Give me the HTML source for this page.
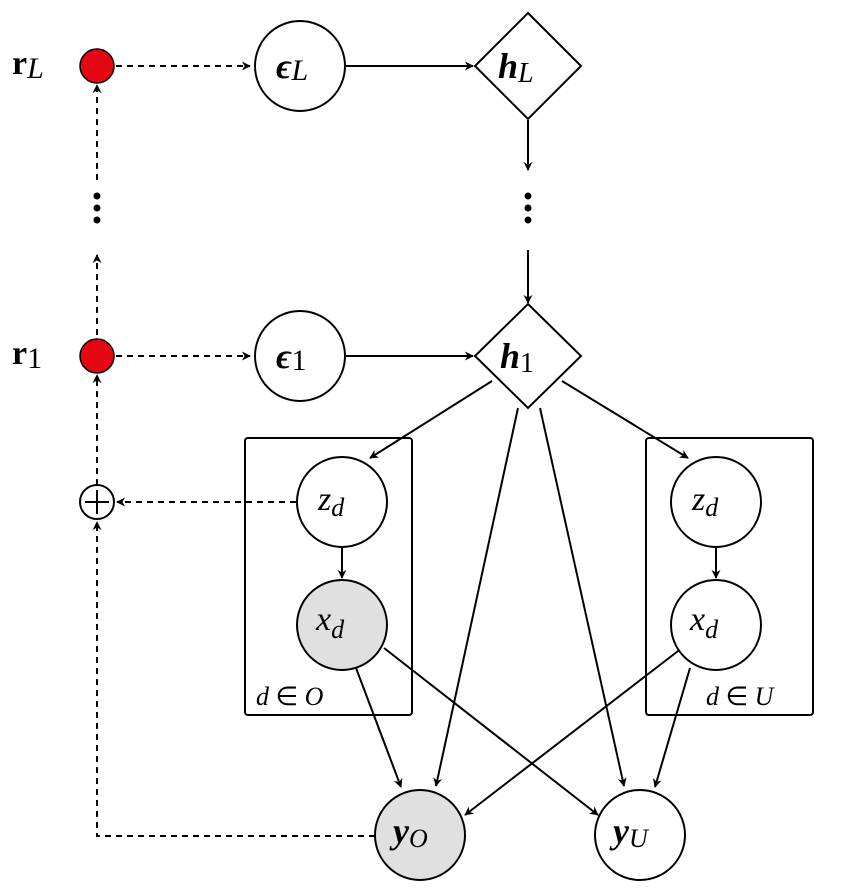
<!DOCTYPE html>
<html><head><meta charset="utf-8"><style>html,body{margin:0;padding:0;background:#fff}svg{display:block}</style></head>
<body>
<svg width="845" height="891" viewBox="0 0 845 891" xmlns="http://www.w3.org/2000/svg">
<defs>
<marker id="a" viewBox="0 0 10 10" refX="9" refY="5" markerWidth="9" markerHeight="9" markerUnits="userSpaceOnUse" orient="auto"><path d="M0,0 L10,5 L0,10 L3,5 z" fill="#000"/></marker>
</defs>
<g stroke="#000" stroke-width="2" fill="none">
<!-- plates -->
<rect x="245" y="438" width="167" height="277" rx="3"/>
<rect x="646" y="438" width="167" height="277" rx="3"/>
<!-- solid arrows -->
<line x1="346" y1="66" x2="473" y2="66" marker-end="url(#a)"/>
<line x1="346" y1="356" x2="473" y2="356" marker-end="url(#a)"/>
<line x1="528" y1="120" x2="528" y2="170" marker-end="url(#a)"/>
<line x1="528" y1="250" x2="528" y2="303" marker-end="url(#a)"/>
<line x1="492" y1="381" x2="370" y2="458" marker-end="url(#a)"/>
<line x1="562" y1="381" x2="688" y2="458" marker-end="url(#a)"/>
<line x1="518" y1="408" x2="436" y2="786" marker-end="url(#a)"/>
<line x1="540" y1="408" x2="624" y2="786" marker-end="url(#a)"/>
<line x1="342" y1="547" x2="342" y2="578" marker-end="url(#a)"/>
<line x1="716" y1="547" x2="716" y2="578" marker-end="url(#a)"/>
<line x1="356" y1="668" x2="401" y2="787" marker-end="url(#a)"/>
<line x1="384" y1="648" x2="598" y2="815" marker-end="url(#a)"/>
<line x1="682" y1="648" x2="465" y2="815" marker-end="url(#a)"/>
<line x1="690" y1="668" x2="655" y2="787" marker-end="url(#a)"/>
<!-- dashed -->
<g stroke-dasharray="6,5">
<line x1="116" y1="66" x2="250" y2="66" marker-end="url(#a)"/>
<line x1="116" y1="356" x2="250" y2="356" marker-end="url(#a)"/>
<line x1="97" y1="180" x2="97" y2="85" marker-end="url(#a)"/>
<line x1="97" y1="335" x2="97" y2="255" marker-end="url(#a)"/>
<line x1="97" y1="485" x2="97" y2="375" marker-end="url(#a)"/>
<line x1="296" y1="502" x2="117" y2="502" marker-end="url(#a)"/>
<polyline points="375,836 97,836 97,522" marker-end="url(#a)"/>
</g>
<!-- nodes -->
<circle cx="97" cy="66" r="17" fill="#e30613" stroke-width="1.5"/>
<circle cx="97" cy="356" r="17" fill="#e30613" stroke-width="1.5"/>
<circle cx="97" cy="502" r="17" fill="#fff"/>
<line x1="85" y1="502" x2="109" y2="502"/><line x1="97" y1="490" x2="97" y2="514"/>
<circle cx="300" cy="66" r="45" fill="#fff"/>
<circle cx="300" cy="356" r="45" fill="#fff"/>
<polygon points="528,13 581,66 528,119 475,66" fill="#fff"/>
<polygon points="528,304 581,356 528,408 475,356" fill="#fff"/>
<circle cx="342" cy="502" r="45" fill="#fff"/>
<circle cx="342" cy="625" r="45" fill="#e0e0e0"/>
<circle cx="716" cy="502" r="45" fill="#fff"/>
<circle cx="716" cy="625" r="45" fill="#fff"/>
<circle cx="420" cy="835" r="45" fill="#e0e0e0"/>
<circle cx="640" cy="835" r="45" fill="#fff"/>
</g>
<g fill="#000">
<circle cx="97" cy="196" r="3.5"/><circle cx="97" cy="208" r="3.5"/><circle cx="97" cy="220" r="3.5"/>
<circle cx="528" cy="196" r="3.5"/><circle cx="528" cy="208" r="3.5"/><circle cx="528" cy="220" r="3.5"/>
</g>
<g font-family="Liberation Serif, serif" fill="#000">
<text x="12" y="74" font-size="34" font-weight="bold">r<tspan font-weight="normal" font-style="italic" font-size="30" dy="4">L</tspan></text>
<text x="12" y="364" font-size="34" font-weight="bold">r<tspan font-weight="normal" font-size="30" dy="4">1</tspan></text>
<text x="276" y="78" font-size="36" font-weight="bold" font-style="italic">ϵ<tspan font-weight="normal" font-size="30" dy="2">L</tspan></text>
<text x="276" y="368" font-size="36" font-weight="bold" font-style="italic">ϵ<tspan font-weight="normal" font-style="normal" font-size="30" dy="2">1</tspan></text>
<text x="498" y="78" font-size="36" font-weight="bold" font-style="italic">h<tspan font-weight="normal" font-size="28" dy="4">L</tspan></text>
<text x="500" y="368" font-size="36" font-weight="bold" font-style="italic">h<tspan font-weight="normal" font-style="normal" font-size="28" dy="4">1</tspan></text>
<text x="318" y="510" font-size="34" font-style="italic">z<tspan font-size="26" dy="6">d</tspan></text>
<text x="692" y="510" font-size="34" font-style="italic">z<tspan font-size="26" dy="6">d</tspan></text>
<text x="316" y="630" font-size="34" font-style="italic">x<tspan font-size="26" dy="8">d</tspan></text>
<text x="690" y="630" font-size="34" font-style="italic">x<tspan font-size="26" dy="8">d</tspan></text>
<text x="393" y="843" font-size="36" font-weight="bold" font-style="italic">y<tspan font-weight="normal" font-size="26" dy="4">O</tspan></text>
<text x="613" y="843" font-size="36" font-weight="bold" font-style="italic">y<tspan font-weight="normal" font-size="26" dy="4">U</tspan></text>
<text x="256" y="705" font-size="26" font-style="italic">d <tspan font-style="normal">∈</tspan> O</text>
<text x="706" y="705" font-size="26" font-style="italic">d <tspan font-style="normal">∈</tspan> U</text>
</g>
</svg>
</body></html>
